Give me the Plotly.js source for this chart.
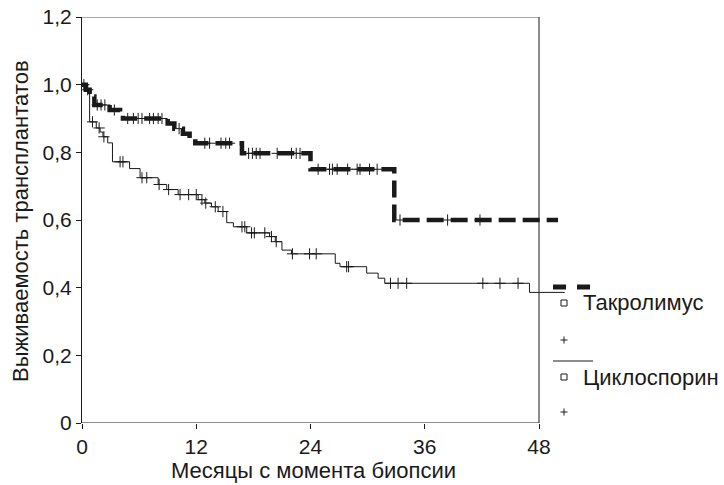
<!DOCTYPE html>
<html>
<head>
<meta charset="utf-8">
<script src="https://cdn.plot.ly/plotly-3.0.1.min.js"></script>
<style>html,body{margin:0;padding:0;background:#fff;}#chart{width:724px;height:485px;}</style>
</head>
<body>
<div id="chart"></div>
<script>
// ---- Data ----
const tacMonths = [0, 0.4, 0.8, 1.3, 2.9, 4.0, 4.3, 9.0, 9.7, 10.6, 11.3, 11.9, 16.8, 24.0, 32.8, 50.0];
const tacSurv   = [1.0, 0.985, 0.965, 0.94, 0.925, 0.91, 0.90, 0.885, 0.87, 0.855, 0.84, 0.827, 0.797, 0.75, 0.60, 0.60];
const tacCensored = [0.2, 0.6, 1.6, 2.0, 2.4, 3.4, 4.8, 5.4, 5.9, 6.3, 7.1, 7.5, 8.0, 8.4, 10.2, 12.9, 13.4, 14.6, 15.1, 15.5, 17.5, 17.9, 18.3, 18.7, 20.5, 22.0, 22.5, 22.9, 24.8, 26.0, 26.3, 26.8, 27.9, 28.9, 29.2, 30.2, 31.0, 33.4, 38.4, 41.8];

const cycMonths = [0, 0.3, 0.8, 1.5, 1.9, 2.2, 2.7, 3.2, 5.0, 6.1, 8.0, 8.9, 10.1, 12.2, 12.9, 13.6, 14.3, 15.2, 15.9, 17.3, 19.7, 20.3, 21.0, 22.0, 26.6, 27.1, 29.9, 31.1, 31.8, 47.0, 50.7];
const cycSurv   = [1.0, 0.98, 0.89, 0.872, 0.86, 0.846, 0.828, 0.772, 0.752, 0.725, 0.705, 0.69, 0.675, 0.66, 0.65, 0.639, 0.625, 0.592, 0.58, 0.562, 0.551, 0.536, 0.511, 0.50, 0.472, 0.462, 0.443, 0.428, 0.413, 0.386, 0.386];
const cycCensored = [1.1, 1.8, 2.3, 4.0, 4.3, 6.3, 6.8, 8.1, 9.1, 10.3, 11.2, 12.0, 12.6, 13.0, 14.0, 14.8, 16.8, 17.1, 17.8, 18.1, 19.2, 19.9, 20.4, 22.1, 23.9, 24.6, 27.8, 28.0, 32.4, 33.2, 34.1, 42.1, 43.9, 45.8];

const xTickVals = [0, 12, 24, 36, 48];
const yTickVals = [0, 0.2, 0.4, 0.6, 0.8, 1.0, 1.2];
const yTickText = ['0', '0,2', '0,4', '0,6', '0,8', '1,0', '1,2'];
const seriesNames = ['Такролимус', 'Циклоспорин'];
const xTitle = 'Месяцы с момента биопсии';
const yTitle = 'Выживаемость трансплантатов';

// step-function lookup for censor marks
function survAt(ms, ss, t) {
  let v = ss[0];
  for (let i = 0; i < ms.length; i++) { if (ms[i] <= t) v = ss[i]; }
  return v;
}

// ---- Layout geometry ----
const W = 724, H = 485, L = 82, T = 17, B = 62, R = 109;
const pxAt48 = 539;
const xMax = 48 * (W - L - R) / (pxAt48 - L);
const px = p => (p - L) / (W - L - R);
const py = p => (H - B - p) / (H - T - B);

const FONT = 'Liberation Sans, Arial, Helvetica, sans-serif';
const INK = '#1a1a1a';

const traces = [
  { x: tacMonths, y: tacSurv, mode: 'lines', line: { shape: 'hv', color: INK, width: 4.5, dash: '17px,7px' }, showlegend: false, hoverinfo: 'skip' },
  { x: tacCensored, y: tacCensored.map(t => survAt(tacMonths, tacSurv, t)), mode: 'markers',
    marker: { symbol: 'cross-thin-open', size: 8, color: INK, line: { color: INK, width: 1 } }, showlegend: false, hoverinfo: 'skip' },
  { x: cycMonths, y: cycSurv, mode: 'lines', line: { shape: 'hv', color: INK, width: 1 }, showlegend: false, hoverinfo: 'skip' },
  { x: cycCensored, y: cycCensored.map(t => survAt(cycMonths, cycSurv, t)), mode: 'markers',
    marker: { symbol: 'cross-thin-open', size: 8, color: INK, line: { color: INK, width: 1 } }, showlegend: false, hoverinfo: 'skip' }
];

function plusShapes(cx, cy) {
  return [
    { type: 'line', xref: 'paper', yref: 'paper', x0: px(cx - 3.5), x1: px(cx + 3.5), y0: py(cy), y1: py(cy), line: { color: INK, width: 1 } },
    { type: 'line', xref: 'paper', yref: 'paper', x0: px(cx), x1: px(cx), y0: py(cy - 3.5), y1: py(cy + 3.5), line: { color: INK, width: 1 } }
  ];
}

const shapes = [
  { type: 'line', xref: 'x', yref: 'y', x0: 0, x1: 48, y0: 0, y1: 0, line: { color: INK, width: 1 } },
  { type: 'line', xref: 'x', yref: 'y', x0: 0, x1: 48, y0: 1.2, y1: 1.2, line: { color: '#555', width: 1 } },
  { type: 'line', xref: 'x', yref: 'y', x0: 48, x1: 48, y0: 0, y1: 1.2, line: { color: INK, width: 1 } },
  // legend samples
  { type: 'line', xref: 'paper', yref: 'paper', x0: px(553), x1: px(595), y0: py(287), y1: py(287), line: { color: INK, width: 5, dash: '13px,11px' } },
  { type: 'rect', xref: 'paper', yref: 'paper', x0: px(561), x1: px(567), y0: py(306), y1: py(300), line: { color: INK, width: 1 } },
  { type: 'line', xref: 'paper', yref: 'paper', x0: px(553), x1: px(593), y0: py(361), y1: py(361), line: { color: INK, width: 1 } },
  { type: 'rect', xref: 'paper', yref: 'paper', x0: px(561), x1: px(567), y0: py(380), y1: py(374), line: { color: INK, width: 1 } }
].concat(plusShapes(564, 340), plusShapes(564, 412));

const annotations = [
  { text: xTitle, xref: 'paper', yref: 'paper', x: px(313), y: py(470), xanchor: 'center', yanchor: 'middle', showarrow: false, font: { family: FONT, size: 22, color: INK } },
  { text: yTitle, xref: 'paper', yref: 'paper', x: px(20), y: py(221), xanchor: 'center', yanchor: 'middle', textangle: -90, showarrow: false, font: { family: FONT, size: 22, color: INK } },
  { text: seriesNames[0], xref: 'paper', yref: 'paper', x: px(581), y: py(303), xanchor: 'left', yanchor: 'middle', showarrow: false, font: { family: FONT, size: 22, color: INK } },
  { text: seriesNames[1], xref: 'paper', yref: 'paper', x: px(581), y: py(377), xanchor: 'left', yanchor: 'middle', showarrow: false, font: { family: FONT, size: 22, color: INK } }
];

const layout = {
  width: W, height: H,
  margin: { l: L, r: R, t: T, b: B, pad: 0 },
  paper_bgcolor: '#fff', plot_bgcolor: '#fff',
  font: { family: FONT, color: INK, size: 21 },
  showlegend: false,
  xaxis: {
    range: [0, xMax], showgrid: false, zeroline: false, showline: false,
    tickmode: 'array', tickvals: xTickVals, ticktext: xTickVals.map(String),
    ticks: 'outside', ticklen: 5, tickwidth: 1, tickcolor: INK,
    tickfont: { family: FONT, size: 21, color: INK }, fixedrange: true
  },
  yaxis: {
    range: [0, 1.2], showgrid: false, zeroline: false, showline: true, linecolor: INK, linewidth: 1,
    tickmode: 'array', tickvals: yTickVals, ticktext: yTickText,
    ticks: 'outside', ticklen: 5, tickwidth: 1, tickcolor: INK,
    tickfont: { family: FONT, size: 21, color: INK }, fixedrange: true
  },
  shapes: shapes,
  annotations: annotations
};

Plotly.newPlot('chart', traces, layout, { staticPlot: true, displayModeBar: false });
</script>
</body>
</html>
